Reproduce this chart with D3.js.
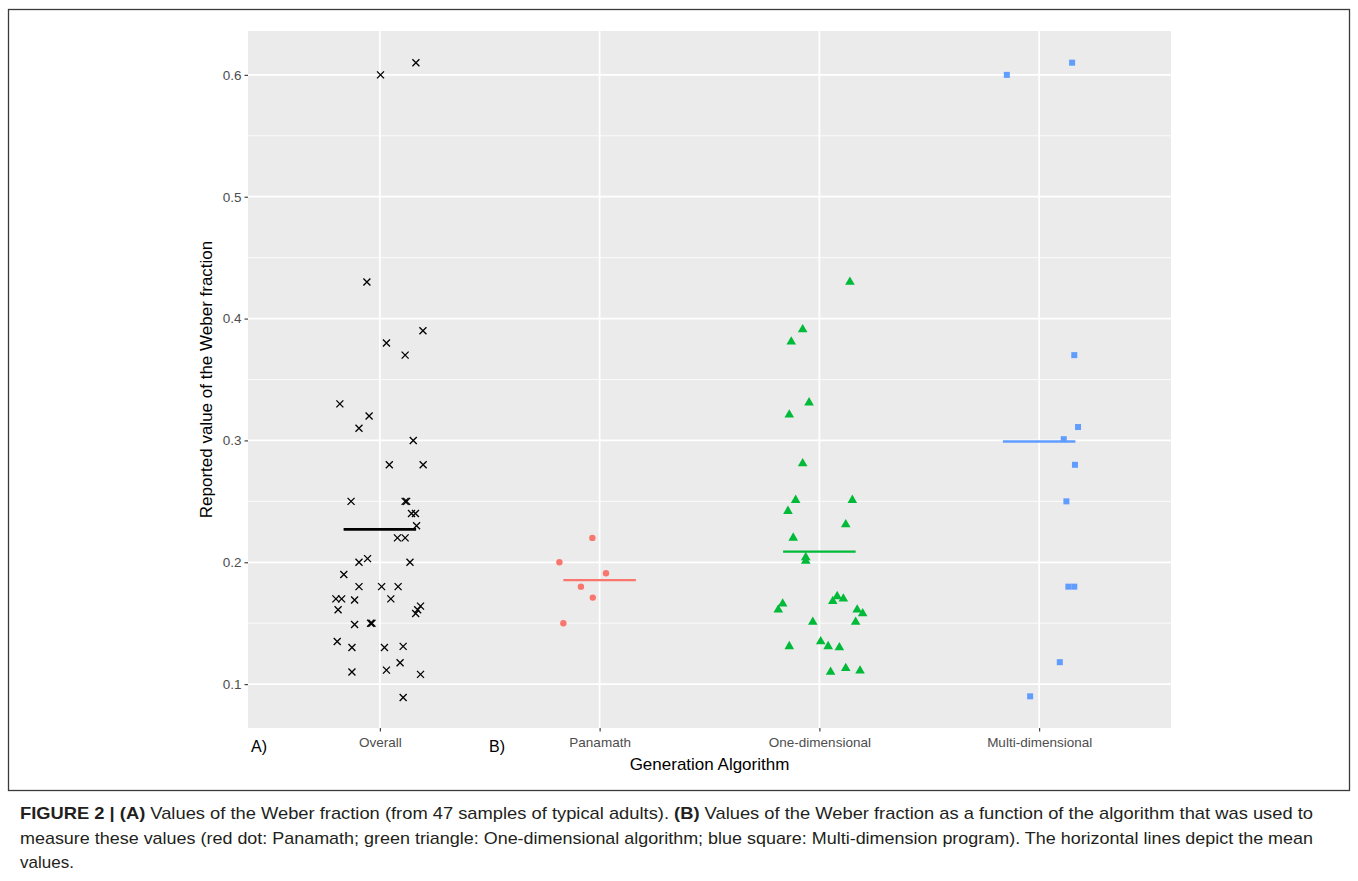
<!DOCTYPE html>
<html>
<head>
<meta charset="utf-8">
<script src="https://cdn.jsdelivr.net/npm/d3@7"></script>
<style>
  body { margin: 0; background: #fff; }
  svg { display: block; font-family: "Liberation Sans", Arial, sans-serif; }
</style>
</head>
<body>
<svg id="chart" width="1358" height="881"></svg>
<script>
// categories on the x axis
const categories = ['Overall', 'Panamath', 'One-dimensional', 'Multi-dimensional'];
const yTicks = [0.1, 0.2, 0.3, 0.4, 0.5, 0.6];

// reported Weber fractions, with the jitter offset (in category units)
const overallValues = [0.61, 0.60, 0.43, 0.39, 0.38, 0.37, 0.33, 0.32, 0.31, 0.30, 0.28, 0.28, 0.25, 0.25, 0.25, 0.24,
  0.24, 0.23, 0.22, 0.22, 0.20, 0.203, 0.20, 0.19, 0.18, 0.18, 0.18, 0.17, 0.17, 0.169, 0.17, 0.164, 0.161, 0.158,
  0.161, 0.149, 0.15, 0.15, 0.135, 0.13, 0.13, 0.131, 0.1175, 0.11, 0.1115, 0.108, 0.089];
const overallJitter = [0.164, 0.003, -0.059, 0.196, 0.030, 0.115, -0.182, -0.049, -0.095, 0.152, 0.043, 0.197, -0.131, 0.115,
  0.122, 0.144, 0.162, 0.167, 0.080, 0.115, -0.095, -0.056, 0.137, -0.164, -0.095, 0.008, 0.083, -0.200, -0.174, -0.115,
  0.050, 0.185, 0.172, 0.163, -0.190, -0.115, -0.042, -0.036, -0.194, -0.127, 0.021, 0.106, 0.092, -0.127, 0.030, 0.185, 0.106];

const panamathValues = [0.22, 0.20, 0.191, 0.18, 0.171, 0.15];
const panamathJitter = [-0.033, -0.183, 0.029, -0.085, -0.031, -0.165];

const oneDimValues = [0.43, 0.391, 0.381, 0.331, 0.321, 0.281, 0.251, 0.251, 0.242, 0.231, 0.22, 0.204, 0.201, 0.168,
  0.172, 0.17, 0.166, 0.161, 0.161, 0.158, 0.151, 0.151, 0.131, 0.135, 0.131, 0.13, 0.11, 0.113, 0.111];
const oneDimJitter = [0.139, -0.076, -0.128, -0.047, -0.137, -0.076, -0.108, 0.150, -0.143, 0.120, -0.119, -0.062, -0.062,
  0.061, 0.081, 0.109, -0.167, -0.187, 0.172, 0.197, -0.030, 0.165, -0.137, 0.006, 0.040, 0.091, 0.051, 0.120, 0.185];

const multiDimValues = [0.60, 0.61, 0.37, 0.311, 0.301, 0.28, 0.25, 0.18, 0.18, 0.118, 0.09];
const multiDimJitter = [-0.147, 0.150, 0.160, 0.177, 0.112, 0.163, 0.124, 0.133, 0.160, 0.094, -0.041];

const colors = ['#000000', '#F8766D', '#00BA38', '#619CFF'];

const captionLines = [
  [['FIGURE 2 | (A)', true], [' Values of the Weber fraction (from 47 samples of typical adults). ', false], ['(B)', true],
    [' Values of the Weber fraction as a function of the algorithm that was used to', false]],
  [['measure these values (red dot: Panamath; green triangle: One-dimensional algorithm; blue square: Multi-dimension program). The horizontal lines depict the mean', false]],
  [['values.', false]]
];

const svg = d3.select('#chart');
const panel = {left: 248, right: 1171, top: 31, bottom: 728};

let x = d3.scaleLinear().domain([-0.6, categories.length - 0.4]).range([panel.left, panel.right]);
let y = d3.scaleLinear().domain([0.064, 0.636]).range([panel.bottom, panel.top]);

// outer frame
svg.append('rect').attr('x', 8.5).attr('y', 9.5).attr('width', 1341).attr('height', 781)
  .attr('fill', 'none').attr('stroke', '#3a3a3a').attr('stroke-width', 1.3);

svg.append('rect').attr('x', panel.left).attr('y', panel.top)
  .attr('width', panel.right - panel.left).attr('height', panel.bottom - panel.top).attr('fill', '#EBEBEB');

let grid = svg.append('g');
let minor = d3.range(0.05, 0.65, 0.1);
grid.selectAll('.minor').data(minor).enter().append('line')
  .attr('x1', panel.left).attr('x2', panel.right)
  .attr('y1', d => y(d)).attr('y2', d => y(d))
  .attr('stroke', '#fff').attr('stroke-width', 0.8);
grid.selectAll('.major').data(yTicks).enter().append('line')
  .attr('x1', panel.left).attr('x2', panel.right)
  .attr('y1', d => y(d)).attr('y2', d => y(d))
  .attr('stroke', '#fff').attr('stroke-width', 1.8);
grid.selectAll('.vmajor').data(categories).enter().append('line')
  .attr('x1', (d, i) => x(i)).attr('x2', (d, i) => x(i))
  .attr('y1', panel.top).attr('y2', panel.bottom)
  .attr('stroke', '#fff').attr('stroke-width', 1.8);

// axes
let yAxis = svg.append('g').attr('transform', 'translate(' + panel.left + ',0)')
  .call(d3.axisLeft(y).tickValues(yTicks).tickSize(3.5).tickPadding(3).tickFormat(d3.format('.1f')));
let xAxis = svg.append('g').attr('transform', 'translate(0,' + panel.bottom + ')')
  .call(d3.axisBottom(x).tickValues(d3.range(categories.length)).tickSize(3.5).tickPadding(5.5).tickFormat(i => categories[i]));
[yAxis, xAxis].forEach(function(a) {
  a.select('.domain').remove();
  a.selectAll('.tick line').attr('stroke', '#333').attr('stroke-width', 1.1);
  a.selectAll('.tick text').attr('fill', '#4D4D4D').style('font-size', '13.5px');
});

svg.append('text').attr('x', (panel.left + panel.right) / 2).attr('y', 770)
  .attr('text-anchor', 'middle').style('font-size', '17px').text('Generation Algorithm');
svg.append('text').attr('transform', 'translate(212,' + (panel.top + panel.bottom) / 2 + ') rotate(-90)')
  .attr('text-anchor', 'middle').style('font-size', '17px').text('Reported value of the Weber fraction');
svg.append('text').attr('x', 251).attr('y', 752).style('font-size', '16px').text('A)');
svg.append('text').attr('x', 489).attr('y', 752).style('font-size', '16px').text('B)');

let groups = [
  {values: overallValues, jitter: overallJitter, shape: 'cross'},
  {values: panamathValues, jitter: panamathJitter, shape: 'circle'},
  {values: oneDimValues, jitter: oneDimJitter, shape: 'triangle'},
  {values: multiDimValues, jitter: multiDimJitter, shape: 'square'}
];

let marks = svg.append('g');
groups.forEach(function(g, gi) {
  let pts = g.values.map((v, i) => ({cx: x(gi + g.jitter[i]), cy: y(v)}));
  let sel = marks.append('g').selectAll('g').data(pts).enter().append('g')
    .attr('transform', d => 'translate(' + d.cx + ',' + d.cy + ')');
  if (g.shape === 'cross') {
    sel.append('path').attr('d', 'M-3.5,-3.5L3.5,3.5M-3.5,3.5L3.5,-3.5')
      .attr('stroke', colors[gi]).attr('stroke-width', 1.3).attr('fill', 'none');
  } else if (g.shape === 'circle') {
    sel.append('circle').attr('r', 3.2).attr('fill', colors[gi]);
  } else if (g.shape === 'triangle') {
    sel.append('path').attr('d', d3.symbol(d3.symbolTriangle, 40)).attr('fill', colors[gi]);
  } else {
    sel.append('rect').attr('x', -3).attr('y', -3).attr('width', 6).attr('height', 6).attr('fill', colors[gi]);
  }

  // mean line
  let m = d3.mean(g.values);
  marks.append('line').attr('x1', x(gi - 0.165)).attr('x2', x(gi + 0.165))
    .attr('y1', y(m)).attr('y2', y(m))
    .attr('stroke', colors[gi]).attr('stroke-width', gi === 0 ? 2.8 : 2.4);
});

// caption
let cap = svg.append('g').style('font-size', '17px').attr('fill', '#231f20');
captionLines.forEach(function(line, li) {
  let t = cap.append('text').attr('x', 20).attr('y', 819 + li * 24.5);
  if (li < 2) t.attr('textLength', 1293).attr('lengthAdjust', 'spacingAndGlyphs');
  line.forEach(function(seg) {
    t.append('tspan').attr('font-weight', seg[1] ? 'bold' : 'normal').text(seg[0]);
  });
});
</script>
</body>
</html>
